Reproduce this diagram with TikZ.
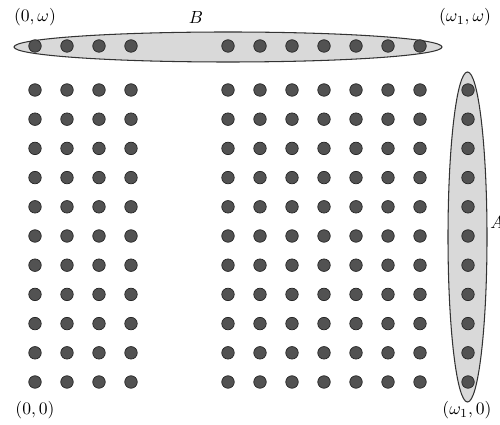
\documentclass[tikz,border=0pt]{standalone}
\usepackage{amsmath,amssymb}
\usetikzlibrary{positioning}
\tikzset{
  gpt/.style    = {draw=black!85, fill=black!68, circle, inner sep=0pt,
                   minimum size=0.25cm, line width=0.4pt},
  region/.style = {draw=black!80, fill=black!15, line width=0.6pt},
  corner/.style = {inner sep=1pt},
}
\begin{document}
\begin{tikzpicture}[x=0.02cm,y=-0.02cm]
\useasboundingbox (0,0) rectangle (500,425);
% the two sets
\draw[region] (228,47) ellipse (214 and 15);
\draw[region] (467.5,237) ellipse (19.5 and 165);
% lattice points
\foreach \x [count=\i] in {35,67,99,131,228,260,292,324,356,388,420} {
  \node[gpt] (top-\i) at (\x,46) {};
  \foreach \r in {0,...,10}
    \node[gpt] (pt-\i-\r) at (\x,90+29.2*\r) {};
}
\foreach \r in {0,...,10}
  \node[gpt] (edge-\r) at (468,90+29.2*\r) {};
% corner labels
\node[corner] (c-tl) at (35,17)  {$(0,\omega)$};
\node[corner] (c-tr) at (465,17) {$(\omega_1,\omega)$};
\node[corner] (c-bl) at (35,410) {$(0,0)$};
\node[corner] (c-br) at (467,410) {$(\omega_1,0)$};
\node (lab-B) at (196,18)  {$B$};
\node (lab-A) at (497,222) {$A$};
\end{tikzpicture}
\end{document}
